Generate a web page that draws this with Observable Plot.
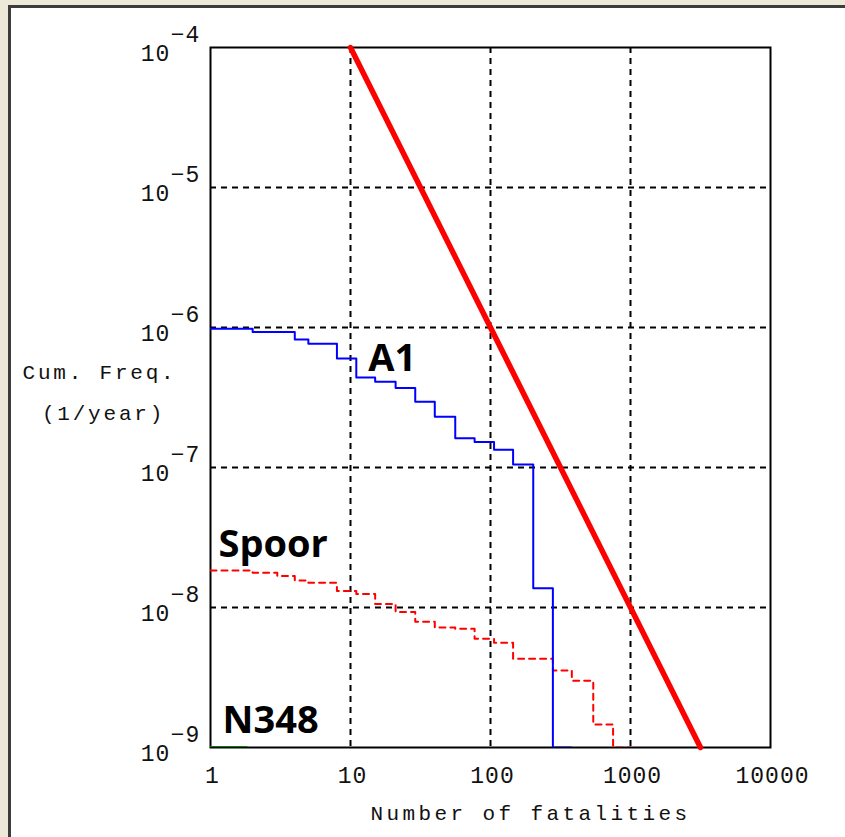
<!DOCTYPE html>
<html>
<head>
<meta charset="utf-8">
<script src="https://cdn.jsdelivr.net/npm/d3@7"></script>
<script src="https://cdn.jsdelivr.net/npm/@observablehq/plot@0.6"></script>
<style>
  html, body { margin: 0; padding: 0; width: 845px; height: 837px; overflow: hidden; background: #ece9d8; }
  #panel { position: absolute; left: 8px; top: 5px; width: 900px; height: 900px; background: #fff;
           border-left: 3px solid #3c3c3c; border-top: 3px solid #3c3c3c; box-sizing: border-box; }
  #chart { position: absolute; left: 0; top: 0; }
</style>
</head>
<body>
<div id="panel"></div>
<div id="chart"></div>
<script>
// Tick values
const xTicks = [1, 10, 100, 1000, 10000];
const yTicks = [1e-4, 1e-5, 1e-6, 1e-7, 1e-8, 1e-9];

// A1 (blue step curve): number of fatalities N and cumulative frequency F
const a1N = [1, 2, 4, 5, 8, 11, 15, 21, 29, 40, 56, 77, 106, 145, 202, 279, 377];
const a1F = [9.8e-7, 9.3e-7, 8.2e-7, 7.65e-7, 6.0e-7, 4.4e-7, 4.1e-7, 3.7e-7, 2.95e-7, 2.3e-7, 1.62e-7, 1.52e-7, 1.34e-7, 1.05e-7, 1.37e-8, 1e-9, 1e-9];

// Spoor (red dashed step curve)
const spoorN = [1, 2, 3, 4, 5, 8, 11, 15, 21, 29, 40, 56, 77, 106, 145, 279, 381, 542, 751, 1000];
const spoorF = [1.84e-8, 1.77e-8, 1.68e-8, 1.56e-8, 1.5e-8, 1.31e-8, 1.25e-8, 1.06e-8, 9.3e-9, 7.9e-9, 7.2e-9, 7.05e-9, 5.97e-9, 5.6e-9, 4.3e-9, 3.55e-9, 3.0e-9, 1.46e-9, 1e-9, 1e-9];

// N348 (green, at the bottom of the range)
const n348N = [1, 1.8];
const n348F = [1e-9, 1e-9];

// Criterion line (red, thick)
const critN = [10, 3162];
const critF = [1e-4, 1e-9];

// Curve labels
const labelText = ["A1", "Spoor", "N348"];
const labelN = [13.4, 1.14, 1.22];
const labelF = [4.85e-7, 2.31e-8, 1.26e-9];

const zip = (xs, ys) => xs.map((x, i) => ({x, y: ys[i]}));
const a1 = zip(a1N, a1F);
const spoor = zip(spoorN, spoorF);
const n348 = zip(n348N, n348F);
const crit = zip(critN, critF);
const labels = labelText.map((t, i) => ({t, x: labelN[i], y: labelF[i]}));

const mono = "Liberation Mono, DejaVu Sans Mono, monospace";

const chart = Plot.plot({
  width: 845,
  height: 837,
  marginLeft: 210,
  marginRight: 75,
  marginTop: 47,
  marginBottom: 90,
  x: {type: "log", domain: [1, 10000], axis: null},
  y: {type: "log", domain: [1e-9, 1e-4], axis: null},
  style: {background: "transparent", overflow: "visible"},
  marks: [
    Plot.ruleX(xTicks.slice(1, -1), {stroke: "#000", strokeWidth: 2, strokeDasharray: "6,5"}),
    Plot.ruleY(yTicks.slice(1, -1), {stroke: "#000", strokeWidth: 2, strokeDasharray: "6,5"}),
    Plot.frame({stroke: "#000", strokeWidth: 2}),
    Plot.line(n348, {x: "x", y: "y", stroke: "#008000", strokeWidth: 3, clip: true}),
    Plot.line(spoor, {x: "x", y: "y", curve: "step-after", stroke: "#ff0000", strokeWidth: 2, strokeDasharray: "6,5", clip: true}),
    Plot.line(a1, {x: "x", y: "y", curve: "step-after", stroke: "#0000ff", strokeWidth: 2, clip: true}),
    Plot.line(crit, {x: "x", y: "y", stroke: "#ff0000", strokeWidth: 5.5}),
    // x tick labels
    Plot.text(xTicks, {x: d => d, frameAnchor: "bottom", dy: 28, dx: 2, text: d => String(d),
      fontFamily: mono, fontSize: 23, fill: "#111", textAnchor: "middle", lineAnchor: "middle"}),
    // y tick labels: base and exponent
    Plot.text(yTicks, {y: d => d, frameAnchor: "left", dx: -55, dy: 6, text: () => "10",
      fontFamily: mono, fontSize: 23, fill: "#111", textAnchor: "middle", lineAnchor: "middle"}),
    Plot.text(yTicks, {y: d => d, frameAnchor: "left", dx: -25, dy: -13, text: d => "\u2212" + Math.round(-Math.log10(d)),
      fontFamily: mono, fontSize: 23, fill: "#111", textAnchor: "middle", lineAnchor: "middle"}),
    // axis titles
    Plot.text(["Number of fatalities"], {frameAnchor: "bottom", dx: 40, dy: 66,
      fontFamily: mono, fontSize: 21, fill: "#111", textAnchor: "middle", lineAnchor: "middle"}),
    Plot.text(["Cum. Freq."], {frameAnchor: "left", dx: -111, dy: -25,
      fontFamily: mono, fontSize: 21, fill: "#111", textAnchor: "middle", lineAnchor: "middle"}),
    Plot.text(["(1/year)"], {frameAnchor: "left", dx: -107, dy: 16,
      fontFamily: mono, fontSize: 21, fill: "#111", textAnchor: "middle", lineAnchor: "middle"}),
    // curve labels
    Plot.text(labels, {x: "x", y: "y", text: "t", textAnchor: "start", lineAnchor: "bottom",
      fontFamily: "Open Sans, DejaVu Sans, sans-serif", fontWeight: "bold", fontSize: 38, fill: "#000"})
  ]
});

// Wide character pitch of the original bitmap monospace font
d3.select(chart).selectAll("text").each(function () {
  const t = this.textContent;
  if (labelText.includes(t)) return;
  let ls = 1;
  if (t === "Number of fatalities") ls = 3.4;
  else if (t === "Cum. Freq." || t === "(1/year)") ls = 2.8;
  this.setAttribute("letter-spacing", ls + "px");
});
document.getElementById("chart").appendChild(chart);
</script>
</body>
</html>
